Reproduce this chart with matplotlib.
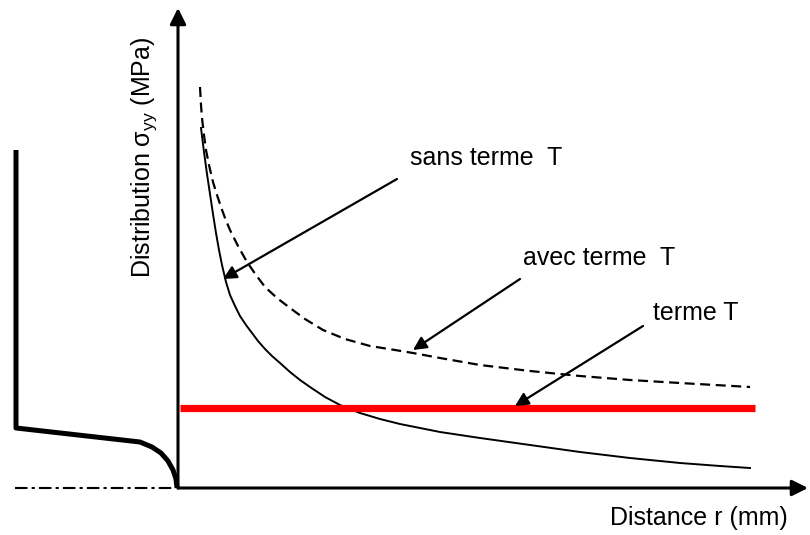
import matplotlib
matplotlib.use('Agg')
import matplotlib.pyplot as plt
import numpy as np

plt.rcParams['font.family'] = ['Liberation Sans', 'DejaVu Sans']
plt.rcParams['mathtext.default'] = 'regular'

# origin = where the two axes cross (pixel 178, 488 in the reference)
X0, Y0 = 178, 488

# solid curve: sigma_yy without T term (pixels)
sans_px = [201, 204, 207, 210, 213, 216, 219, 222, 226, 230, 235, 240, 246, 252, 258,
           265, 272, 280, 290, 300, 310, 325, 340, 360, 380, 400, 440, 480, 530, 580, 630,
           680, 720, 750]
sans_py = [128, 152, 174, 194, 214, 233, 250, 265, 282, 295, 306, 316, 325, 333, 341,
           349, 356, 363, 372, 380, 387, 397, 405, 413, 419, 424, 432, 438, 445, 452, 458,
           463, 466, 468]

# dashed curve: sigma_yy with T term
avec_px = [200, 201, 202, 204, 206, 209, 213, 217, 221, 225, 230, 238, 247, 256, 265, 277,
           290, 305, 323, 345, 370, 395, 413, 440, 480, 530, 580, 630, 680, 715, 750]
avec_py = [87, 105, 118, 135, 150, 165, 182, 195, 207, 218, 230, 246, 262, 275, 287, 298,
           308, 319, 330, 339, 346, 350, 353, 358, 365, 371, 376, 380, 383, 385, 387]

# constant T term
terme_px = [180, 755]
terme_py = [408, 408]

# crack tip profile on the left
crack_px = [16, 16, 140, 152, 161, 168, 173, 176, 177]
crack_py = [150, 428, 442, 447, 453, 461, 470, 479, 488]


def to_xy(px, py):
    return np.array(px) - X0, Y0 - np.array(py)


fig = plt.figure(figsize=(8.1, 5.35), dpi=100)
ax = fig.add_axes([0, 0, 1, 1])
ax.set_xlim(-X0, 810 - X0)
ax.set_ylim(Y0 - 535, Y0)
ax.axis('off')

x, y = to_xy(sans_px, sans_py)
ax.plot(x, y, color='black', lw=1.4)
x, y = to_xy(avec_px, avec_py)
ax.plot(x, y, color='black', lw=1.6, dashes=(4.5, 2.5))
x, y = to_xy(terme_px, terme_py)
ax.plot(x, y, color='#ff0000', lw=5.2, solid_capstyle='butt')
x, y = to_xy(crack_px, crack_py)
ax.plot(x, y, color='black', lw=3.6, solid_capstyle='butt', solid_joinstyle='round')

# symmetry line of the crack
ax.plot([15 - X0, 172 - X0], [0, 0], color='black', lw=1.5, dashes=(6, 2, 1.5, 2))

# axes with arrows
arr = dict(arrowstyle='-|>', lw=2.2, color='black', mutation_scale=24, shrinkA=0, shrinkB=0)
ax.annotate('', xy=(0, Y0 - 8), xytext=(0, 0), arrowprops=arr)
ax.annotate('', xy=(808 - X0, 0), xytext=(0, 0), arrowprops=arr)

# labels with pointers
lab = dict(arrowstyle='-|>', lw=1.6, color='black', mutation_scale=20, shrinkA=0, shrinkB=0)
fs = 18
ax.text(410 - X0, Y0 - 158, 'sans terme  T', fontsize=fs, ha='left', va='center')
ax.annotate('', xy=(223 - X0, Y0 - 279), xytext=(397 - X0, Y0 - 179), arrowprops=lab)
ax.text(523 - X0, Y0 - 258, 'avec terme  T', fontsize=fs, ha='left', va='center')
ax.annotate('', xy=(413 - X0, Y0 - 350), xytext=(520 - X0, Y0 - 279), arrowprops=lab)
ax.text(653 - X0, Y0 - 313, 'terme T', fontsize=fs, ha='left', va='center')
ax.annotate('', xy=(515 - X0, Y0 - 406), xytext=(643 - X0, Y0 - 326), arrowprops=lab)

ax.text(610 - X0, Y0 - 518, 'Distance r (mm)', fontsize=fs, ha='left', va='center')
ax.text(144 - X0, Y0 - 157, r'Distribution $\sigma_{yy}$ (MPa)', fontsize=fs,
        rotation=90, ha='center', va='center')

fig.savefig('out.png', dpi=100)
